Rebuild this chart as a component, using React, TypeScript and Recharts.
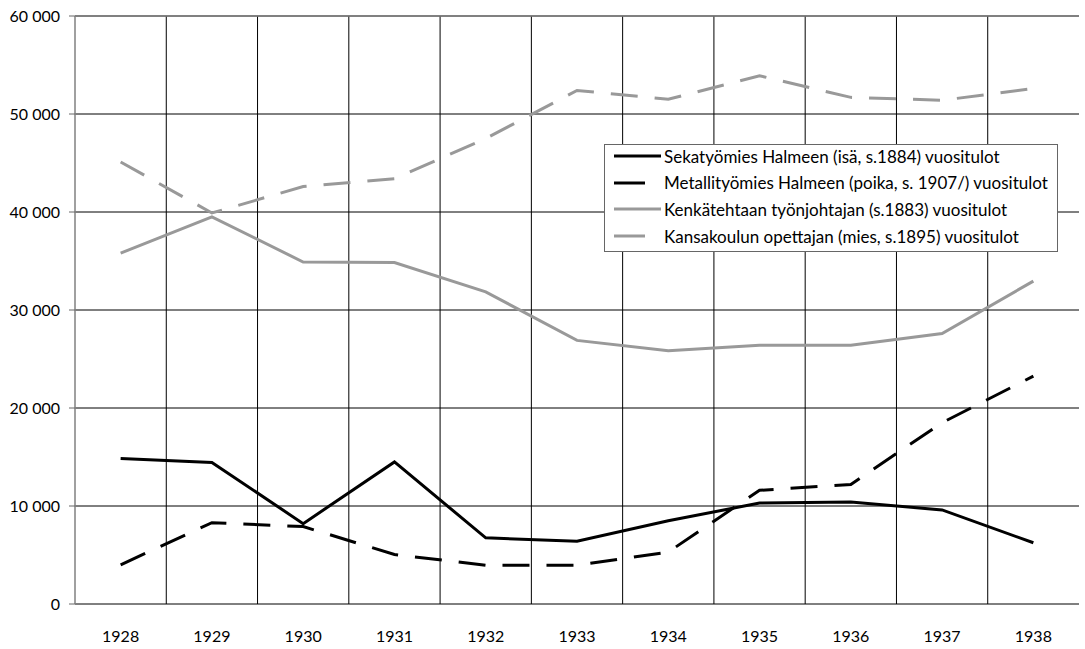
import { CartesianGrid, Line, LineChart, ReferenceLine, XAxis, YAxis } from "recharts";

const years = [1928, 1929, 1930, 1931, 1932, 1933, 1934, 1935, 1936, 1937, 1938];
const boundaries = [1927.5, 1928.5, 1929.5, 1930.5, 1931.5, 1932.5, 1933.5, 1934.5, 1935.5, 1936.5, 1937.5, 1938.5];
const yTicks = [0, 10000, 20000, 30000, 40000, 50000, 60000];

const sekatyomies = [14850, 14450, 8200, 14500, 6750, 6400, 8500, 10300, 10400, 9600, 6250];
const metallityomies = [4000, 8300, 7900, 5050, 3950, 3950, 5300, 11600, 12200, 18500, 23250];
const kenkatehdas = [35800, 39500, 34900, 34850, 31850, 26900, 25850, 26400, 26400, 27600, 32950];
const kansakoulu = [45100, 39900, 42600, 43400, 47500, 52400, 51500, 53900, 51700, 51400, 52600];

const seriesInfo = [
  { key: "seka", name: "Sekatyömies Halmeen (isä, s.1884) vuositulot", color: "#000000", dash: undefined },
  { key: "metalli", name: "Metallityömies Halmeen (poika, s. 1907/) vuositulot", color: "#000000", dash: "27 17" },
  { key: "kenka", name: "Kenkätehtaan työnjohtajan (s.1883) vuositulot", color: "#999999", dash: undefined },
  { key: "kansa", name: "Kansakoulun opettajan (mies, s.1895) vuositulot", color: "#999999", dash: "27 17" },
];

const data = years.map((year, i) => ({
  year,
  seka: sekatyomies[i],
  metalli: metallityomies[i],
  kenka: kenkatehdas[i],
  kansa: kansakoulu[i],
}));

const font = "Lato, 'Open Sans', sans-serif";

const fmt = (v: number) => (v === 0 ? "0" : `${v / 1000} 000`);

function LegendBox() {
  return (
    <div
      style={{
        position: "absolute",
        left: 604,
        top: 144,
        width: 454,
        height: 108,
        border: "1px solid #666",
        background: "#fff",
        fontFamily: font,
        fontSize: 17,
        color: "#000",
        boxSizing: "border-box",
        paddingTop: 0,
      }}
    >
      {seriesInfo.map((s) => (
        <div key={s.key} style={{ display: "flex", alignItems: "center", height: 26.6, marginTop: s.key === "seka" ? -2 : 0 }}>
          <svg width={59} height={10} style={{ flex: "none" }}>
            <line x1={9} y1={5} x2={s.dash ? 40 : 56} y2={5} stroke={s.color} strokeWidth={3} />
          </svg>
          <span style={{ whiteSpace: "nowrap" }}>{s.name}</span>
        </div>
      ))}
    </div>
  );
}

export default function App() {
  return (
    <div style={{ position: "absolute", left: 0, top: 0, width: 1085, height: 649, background: "#fff" }}>
      <LineChart width={1085} height={649} data={data} margin={{ top: 16, right: 6, bottom: 0, left: 0 }}>
        <CartesianGrid
          stroke="#000"
          strokeWidth={1}
          verticalCoordinatesGenerator={({ offset }: any) =>
            boundaries.slice(1, -1).map((_, i) => offset.left + ((i + 1) * offset.width) / years.length)
          }
        />
        <ReferenceLine y={60000} stroke="#808080" strokeWidth={1.5} />
        <XAxis
          xAxisId="b"
          type="number"
          dataKey="year"
          domain={[1927.5, 1938.5]}
          ticks={boundaries}
          interval={0}
          height={0}
          tickSize={6}
          tick={() => <g />}
          axisLine={{ stroke: "#666", strokeWidth: 1.5 }}
          tickLine={{ stroke: "#666" }}
        />
        <XAxis
          xAxisId="a"
          type="number"
          dataKey="year"
          domain={[1927.5, 1938.5]}
          ticks={years}
          interval={0}
          height={45}
          axisLine={false}
          tickLine={false}
          tickSize={6}
          tickMargin={21}
          tick={{ fill: "#000", fontSize: 16, fontFamily: font }}
        />
        <YAxis
          width={75}
          domain={[0, 60000]}
          ticks={yTicks}
          interval={0}
          tickFormatter={fmt}
          tickSize={6}
          tickMargin={9}
          axisLine={{ stroke: "#808080", strokeWidth: 1.5 }}
          tickLine={{ stroke: "#666" }}
          tick={{ fill: "#000", fontSize: 16, fontFamily: font }}
        />
        {seriesInfo.map((s) => (
          <Line
            key={s.key}
            xAxisId="a"
            type="linear"
            dataKey={s.key}
            name={s.name}
            stroke={s.color}
            strokeWidth={3}
            strokeDasharray={s.dash}
            dot={false}
            activeDot={false}
            isAnimationActive={false}
          />
        ))}
      </LineChart>
      <LegendBox />
    </div>
  );
}
